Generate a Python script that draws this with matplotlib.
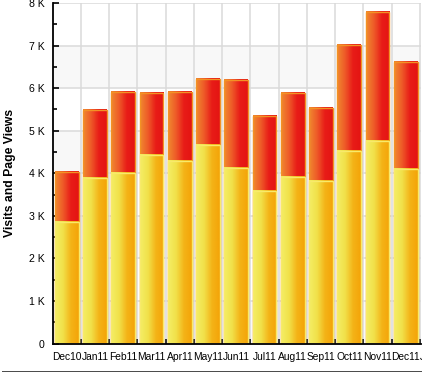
import numpy as np
import matplotlib
matplotlib.use("Agg")
import matplotlib.pyplot as plt
from matplotlib.colors import LinearSegmentedColormap
from matplotlib.patches import Rectangle
from matplotlib.ticker import FuncFormatter, MultipleLocator, FixedLocator

months = ['Dec10', 'Jan11', 'Feb11', 'Mar11', 'Apr11', 'May11', 'Jun11',
          'Jul11', 'Aug11', 'Sep11', 'Oct11', 'Nov11', 'Dec11', 'Jan12']
visits = [2850, 3890, 4000, 4430, 4290, 4660, 4120, 3590, 3910, 3820, 4520, 4760, 4100]
page_views = [4030, 5490, 5910, 5890, 5910, 6210, 6180, 5350, 5890, 5530, 7020, 7790, 6620]
ylabel = 'Visits and Page Views'

plt.rcParams['font.family'] = ['Liberation Sans', 'DejaVu Sans']

W, H = 427, 376
fig = plt.figure(figsize=(W / 100, H / 100), dpi=100)

left_px, right_px, top_px, bot_px = 52.7, 421.5, 3.0, 343.5
ax = fig.add_axes([left_px / W, 1 - bot_px / H, (right_px - left_px) / W, (bot_px - top_px) / H])

cat_px = 28.25
xmax = -0.5 + (right_px - left_px) / cat_px
ax.set_xlim(-0.5, xmax)
ax.set_ylim(0, 8000)

# alternating bands
for b in range(0, 8000, 2000):
    ax.axhspan(b, b + 1000, color='#f8f8f8', zorder=0, lw=0)

# grid
for yv in range(1000, 8001, 1000):
    ax.axhline(yv, color='#dadada', lw=1.1, zorder=1)
for xb in np.arange(0.5, len(months) - 0.5, 1.0):
    ax.axvline(xb, color='#dadada', lw=1.1, zorder=1)

cmap_y = LinearSegmentedColormap.from_list('yel', ['#f4ee66', '#f1e14a', '#f4b418', '#f4a408'])
cmap_r = LinearSegmentedColormap.from_list('red', ['#f08a30', '#ee5a28', '#e81c18', '#e41412'])
grad = np.linspace(0, 1, 128).reshape(1, -1)
w = 0.84
for i, (v, p) in enumerate(zip(visits, page_views)):
    x0 = i - w / 2
    ax.imshow(grad, extent=[x0, x0 + w, 0, p], cmap=cmap_r, aspect='auto',
              zorder=2, interpolation='bilinear')
    ax.add_patch(Rectangle((x0, 0), w, p, fill=False, ec='#f39224', lw=1.0, zorder=3))
    ax.imshow(grad, extent=[x0, x0 + w, 0, v], cmap=cmap_y, aspect='auto',
              zorder=4, interpolation='bilinear')
    ax.add_patch(Rectangle((x0, 0), w, v, fill=False, ec='#f8ea6a', lw=1.0, zorder=5))

ax.set_xlim(-0.5, xmax)
ax.set_ylim(0, 8000)
ax.set_aspect('auto')

for s in ['top', 'right']:
    ax.spines[s].set_visible(False)
for s in ['left', 'bottom']:
    ax.spines[s].set_color('black')
    ax.spines[s].set_linewidth(1.3)
    ax.spines[s].set_zorder(6)

ax.yaxis.set_major_locator(MultipleLocator(1000))
ax.yaxis.set_minor_locator(MultipleLocator(500))
ax.yaxis.set_major_formatter(FuncFormatter(lambda v, p: '0' if v == 0 else f'{int(v/1000)} K'))
ax.tick_params(axis='y', which='major', direction='in', length=4, width=1.2,
               labelsize=7.6, pad=6, colors='black')
ax.tick_params(axis='y', which='minor', direction='in', length=3, width=1.2)

ax.xaxis.set_major_locator(FixedLocator(np.arange(0.5, len(months) - 0.5, 1.0)))
ax.xaxis.set_major_formatter(FuncFormatter(lambda v, p: ''))
ax.xaxis.set_minor_locator(FixedLocator(np.arange(len(months))))
ax.set_xticklabels(months, minor=True)
ax.tick_params(axis='x', which='major', direction='in', length=3.5, width=1.1)
ax.tick_params(axis='x', which='minor', length=0, labelsize=7.4, pad=6)

# labels of categories beyond the visible range (clipped by the frame)
for i in range(len(months)):
    if i > xmax:
        ax.annotate(months[i], xy=(i, 0), xycoords=('data', 'axes fraction'),
                    xytext=(0, -6), textcoords='offset points', ha='center', va='top',
                    fontsize=7.4, annotation_clip=False)

fig.text(10 / W, 1 - 173 / H, ylabel, rotation=90, fontsize=8.8, fontweight='bold',
         ha='center', va='center')

# frame overlay
ov = fig.add_axes([0, 0, 1, 1], zorder=10)
ov.set_xlim(0, W)
ov.set_ylim(H, 0)
ov.axis('off')
ov.patch.set_alpha(0)
ov.add_patch(Rectangle((421.8, 0), W - 421.8, H, color='white', lw=0))
ov.add_patch(Rectangle((0, 371.8), W, H - 371.8, color='white', lw=0))
sh = LinearSegmentedColormap.from_list('sh', ['#3c3c3c', '#7a7a7a', '#bdbdbd', '#f4f4f4'])
g = np.linspace(0, 1, 32)
ov.imshow(g.reshape(1, -1), extent=[421.8, 427, 372.5, 3], cmap=sh, aspect='auto',
          interpolation='bilinear')
ov.imshow(g.reshape(-1, 1), extent=[2, 426, 376, 371.6], cmap=sh, aspect='auto',
          interpolation='bilinear', origin='upper')
ov.set_xlim(0, W)
ov.set_ylim(H, 0)

fig.savefig('out.png', dpi=100)
